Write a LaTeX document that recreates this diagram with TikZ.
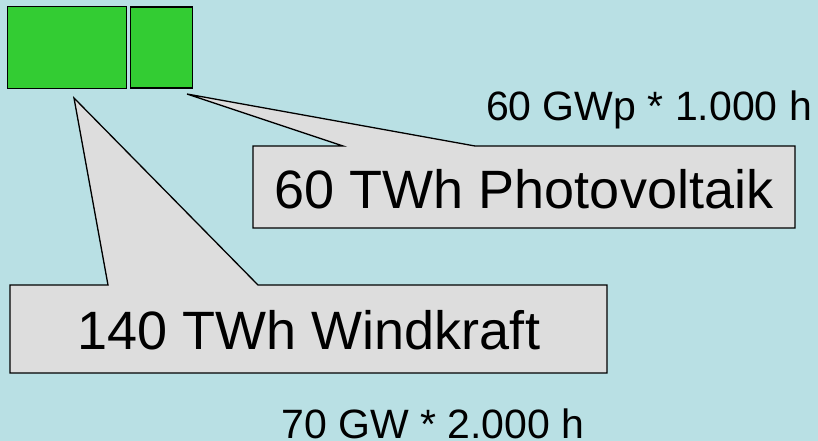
\documentclass[tikz,border=0pt]{standalone}
\usepackage{fontspec}
\setmainfont{Liberation Sans}
\definecolor{bgblue}{HTML}{B9E0E4}
\definecolor{boxgreen}{HTML}{33CC33}
\definecolor{callgray}{HTML}{DDDDDD}
\tikzset{
  greenbox/.style={draw=black, line width=1.4pt, fill=boxgreen, inner sep=0pt, anchor=north west},
  callout/.style={draw=black, line width=1.3pt, fill=callgray, line join=miter},
  bigtext/.style={font=\fontsize{54}{60}\selectfont, anchor=base, inner sep=0pt},
  smalltext/.style={font=\fontsize{41}{48}\selectfont, anchor=base, inner sep=0pt}
}
\begin{document}
\begin{tikzpicture}[x=1pt,y=-1pt]
\fill[bgblue] (0,0) rectangle (818,441);
\useasboundingbox (0,0) rectangle (818,441);
% green boxes
\node[greenbox, minimum width=119pt, minimum height=82pt] (wind) at (7,6) {};
\node[greenbox, minimum width=62pt, minimum height=81pt] (pv) at (130,6.5) {};
% PV callout
\coordinate (pvtip) at (187,94);
\draw[callout] (253,146) -- (343,146) -- (pvtip) -- (475,146) -- (795,146) -- (795,228) -- (253,228) -- cycle;
\node[bigtext] (pvlabel) at (524,208) {60 TWh Photovoltaik};
% Wind callout
\coordinate (windtip) at (74,98);
\draw[callout] (10,285) -- (108,285) -- (windtip) -- (258,285) -- (607,285) -- (607,373) -- (10,373) -- cycle;
\node[bigtext] (windlabel) at (309,349) {140 TWh Windkraft};
% formulas
\node[smalltext] (pvcalc) at (649,121) {60 GWp * 1.000 h};
\node[smalltext] (windcalc) at (433,438) {70 GW * 2.000 h};
\end{tikzpicture}
\end{document}
